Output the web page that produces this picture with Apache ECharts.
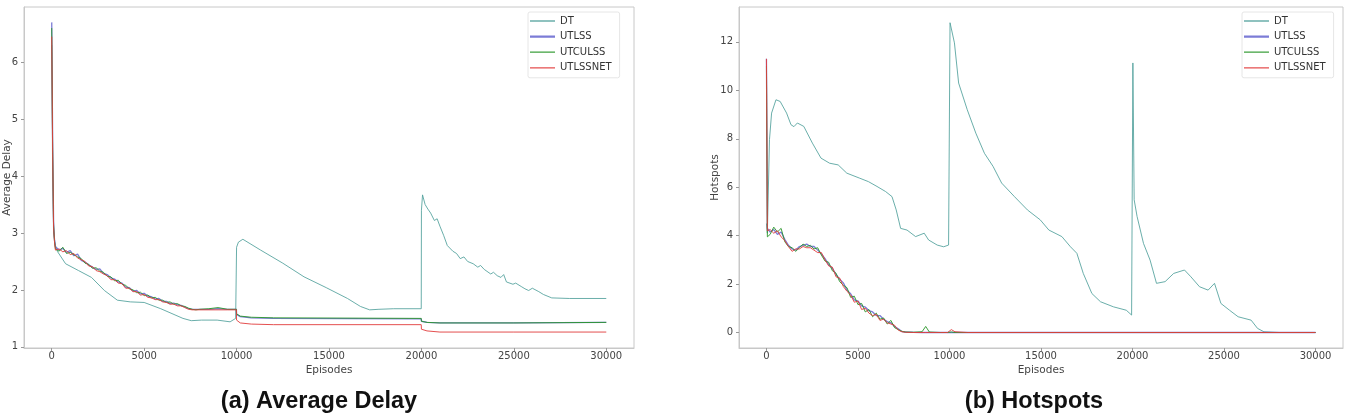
<!DOCTYPE html>
<html>
<head>
<meta charset="utf-8">
<script src="https://cdn.jsdelivr.net/npm/echarts@6/dist/echarts.min.js"></script>
<style>
  html, body { margin: 0; padding: 0; background: #fff; }
  #chart { width: 1348px; height: 415px; }
</style>
</head>
<body>
<div id="chart"></div>
<script>
// ---- (a) Average Delay ----
const delayEp = [0, 50, 100, 150,
  200, 400, 600, 800, 1000, 1200, 1400, 1600, 1800, 2000, 2200, 2400, 2600, 2800, 3000, 3200, 3400, 3600, 3800,
  4000, 4200, 4400, 4600, 4800, 5000, 5200, 5400, 5600, 5800, 6000, 6200, 6400, 6600, 6800, 7000, 7200, 7400, 7600, 7800,
  8000, 8500, 9000, 9500, 9990, 10000, 10200, 10800, 12000, 19990, 20000, 20300, 21000, 25000, 30000]
const delayUtlss = [6.70, 4.60, 3.20, 2.88,
  2.76, 2.70, 2.73, 2.66, 2.69, 2.60, 2.63, 2.52, 2.49, 2.44, 2.40, 2.36, 2.37, 2.29, 2.27, 2.21, 2.19, 2.14, 2.12,
  2.05, 2.04, 1.98, 1.99, 1.93, 1.94, 1.89, 1.88, 1.84, 1.85, 1.80, 1.80, 1.76, 1.77, 1.74, 1.73, 1.70, 1.67, 1.66, 1.66,
  1.66, 1.66, 1.67, 1.66, 1.66, 1.57, 1.53, 1.51, 1.50, 1.49, 1.45, 1.43, 1.42, 1.42, 1.43]
const delayUtculss = [6.60, 4.50, 3.15, 2.85,
  2.72, 2.68, 2.75, 2.64, 2.66, 2.62, 2.58, 2.55, 2.47, 2.45, 2.38, 2.39, 2.33, 2.31, 2.24, 2.23, 2.16, 2.17, 2.10,
  2.08, 2.02, 2.00, 1.95, 1.96, 1.90, 1.91, 1.86, 1.87, 1.82, 1.82, 1.78, 1.79, 1.75, 1.76, 1.72, 1.71, 1.68, 1.66, 1.65,
  1.66, 1.67, 1.69, 1.66, 1.66, 1.58, 1.54, 1.52, 1.51, 1.50, 1.45, 1.43, 1.42, 1.42, 1.43]
const delayUtlssnet = [6.45, 4.40, 3.10, 2.84,
  2.70, 2.72, 2.67, 2.69, 2.62, 2.64, 2.56, 2.53, 2.50, 2.42, 2.41, 2.34, 2.32, 2.28, 2.25, 2.18, 2.18, 2.12, 2.11,
  2.03, 2.03, 1.97, 1.97, 1.91, 1.92, 1.87, 1.86, 1.83, 1.83, 1.79, 1.78, 1.75, 1.75, 1.72, 1.72, 1.69, 1.66, 1.65, 1.65,
  1.65, 1.65, 1.65, 1.65, 1.65, 1.47, 1.42, 1.40, 1.39, 1.39, 1.31, 1.28, 1.26, 1.26, 1.26]

const delayDtEp = [0, 50, 100, 200, 300, 750, 1450, 2150, 2850, 3550, 4250, 5000, 5900, 7100, 7550,
  8100, 8950, 9650, 9950, 10000, 10100, 10340, 11300, 12500, 13650, 14850, 16000, 16700, 17200, 17700,
  18500, 19990, 20000, 20060, 20200, 20350, 20500, 20700, 20850, 21000, 21200, 21400, 21700, 21900, 22100,
  22300, 22500, 22800, 23050, 23200, 23400, 23750, 23900, 24100, 24300, 24450, 24600, 24950, 25100, 25400,
  25600, 25800, 26000, 26350, 26600, 27050, 28000, 30000]
const delayDt = [6.3, 4.0, 3.0, 2.78, 2.68, 2.46, 2.34, 2.22, 1.99, 1.82, 1.79, 1.78, 1.67, 1.50, 1.46,
  1.47, 1.47, 1.44, 1.50, 2.75, 2.84, 2.89, 2.70, 2.47, 2.23, 2.04, 1.85, 1.71, 1.65, 1.66,
  1.67, 1.67, 3.40, 3.67, 3.50, 3.42, 3.35, 3.22, 3.25, 3.12, 2.96, 2.78, 2.68, 2.64, 2.55,
  2.58, 2.50, 2.46, 2.40, 2.43, 2.36, 2.28, 2.31, 2.25, 2.22, 2.27, 2.14, 2.10, 2.12, 2.06,
  2.02, 1.99, 2.03, 1.97, 1.92, 1.86, 1.85, 1.85]

// ---- (b) Hotspots ----
const hotEp = [0, 50,
  200, 400, 600, 800, 1000, 1200, 1400, 1600, 1800, 2000, 2200, 2400, 2600, 2800, 3000, 3200, 3400, 3600, 3800,
  4000, 4200, 4400, 4600, 4800, 5000, 5200, 5400, 5600, 5800, 6000, 6200, 6400, 6600, 6800, 7000, 7200, 7400,
  7600, 8000, 8500, 8700, 8900, 9500, 9900, 10000, 10100, 10300, 11000, 30000]
const hotUtlss = [11.3, 4.3,
  4.15, 4.25, 4.05, 4.15, 3.85, 3.60, 3.45, 3.40, 3.55, 3.60, 3.65, 3.55, 3.55, 3.40, 3.25, 3.05, 2.80, 2.65, 2.40,
  2.20, 2.05, 1.75, 1.60, 1.35, 1.30, 1.10, 1.05, 0.90, 0.85, 0.70, 0.70, 0.55, 0.45, 0.40, 0.25, 0.15, 0.04,
  0.02, 0.01, 0, 0, 0, 0, 0, 0, 0, 0, 0, 0]
const hotUtculss = [11.0, 3.95,
  4.05, 4.35, 4.15, 4.30, 3.75, 3.55, 3.50, 3.35, 3.50, 3.65, 3.55, 3.60, 3.45, 3.50, 3.20, 2.95, 2.90, 2.55, 2.45,
  2.10, 1.95, 1.85, 1.45, 1.50, 1.15, 1.20, 0.85, 0.95, 0.65, 0.80, 0.55, 0.60, 0.35, 0.50, 0.20, 0.12, 0.05,
  0.02, 0.01, 0.03, 0.25, 0.02, 0, 0, 0, 0.02, 0, 0, 0]
const hotUtlssnet = [11.3, 4.2,
  4.25, 4.10, 4.20, 3.95, 3.80, 3.55, 3.35, 3.45, 3.45, 3.55, 3.50, 3.50, 3.40, 3.30, 3.30, 3.00, 2.75, 2.70, 2.30,
  2.25, 1.90, 1.70, 1.55, 1.25, 1.30, 0.95, 1.00, 0.80, 0.70, 0.75, 0.50, 0.55, 0.40, 0.35, 0.30, 0.10, 0.03,
  0.01, 0, 0, 0, 0, 0, 0, 0.02, 0.12, 0.03, 0, 0]

const hotDtEp = [0, 50, 165, 280, 520, 750, 1100, 1340, 1500, 1690, 2040, 2510, 2980, 3450, 3920,
  4390, 5100, 5570, 6040, 6510, 6860, 7090, 7330, 7680, 8150, 8620, 8860, 9330, 9680, 9950,
  10030, 10270, 10500, 10970, 11440, 11910, 12380, 12850, 13550, 14260, 14960, 15430, 16140, 16610, 16960,
  17310, 17780, 18250, 18960, 19660, 19950, 20020, 20090, 20250, 20600, 20960, 21310, 21780, 22250, 22840,
  23190, 23660, 24130, 24480, 24830, 25300, 25770, 26480, 26830, 27180, 28000, 30000]
const hotDt = [4.5, 4.1, 7.96, 9.06, 9.61, 9.54, 9.06, 8.58, 8.50, 8.65, 8.51, 7.82, 7.20, 6.99, 6.92,
  6.58, 6.37, 6.23, 6.03, 5.82, 5.61, 5.06, 4.30, 4.23, 3.96, 4.10, 3.82, 3.61, 3.54, 3.61,
  12.79, 11.96, 10.3, 9.2, 8.23, 7.4, 6.86, 6.17, 5.61, 5.06, 4.65, 4.23, 3.96, 3.54, 3.27,
  2.44, 1.61, 1.27, 1.06, 0.92, 0.72, 11.13, 5.48, 4.79, 3.68, 2.99, 2.03, 2.10, 2.44, 2.58,
  2.30, 1.89, 1.75, 2.03, 1.20, 0.92, 0.65, 0.51, 0.17, 0.03, 0, 0]

const seriesNames = ['DT', 'UTLSS', 'UTCULSS', 'UTLSSNET']
const xTicks = [0, 5000, 10000, 15000, 20000, 25000, 30000]
const delayTicks = [1, 2, 3, 4, 5, 6]
const hotTicks = [0, 2, 4, 6, 8, 10, 12]

const colors = {
  DT: 'rgba(80,160,155,0.85)',
  UTLSS: 'rgba(110,110,210,0.9)',
  UTCULSS: 'rgba(40,150,40,0.9)',
  UTLSSNET: 'rgba(225,60,60,0.9)'
}

const pairs = (xs, ys) => xs.map((x, i) => [x, ys[i]])

const font = 'DejaVu Sans'
const axisGray = '#c8c8c8'
const labelColor = '#444'

// thin line legend icon; corner dots keep the 25x10 box
const lineIcon = (h) => 'path://M0,0h0.01v0.01h-0.01z M0,' + (5 - h / 2) + 'h25v' + h + 'h-25z M24.99,9.99h0.01v0.01h-0.01z'

const makeX = (gridIndex) => ({
  type: 'value',
  gridIndex,
  min: -1500,
  max: 31500,
  name: 'Episodes',
  nameLocation: 'middle',
  nameGap: 16.5,
  nameMoveOverlap: false,
  nameTextStyle: { fontFamily: font, fontSize: 10.5, color: labelColor },
  splitLine: { show: false },
  axisLine: { onZero: false, lineStyle: { color: axisGray } },
  axisTick: { show: true, length: 3, customValues: xTicks, lineStyle: { color: '#999' } },
  axisLabel: { customValues: xTicks, formatter: (v) => String(v), fontFamily: font, fontSize: 10, color: labelColor, margin: 3 }
})

const makeY = (gridIndex, min, max, ticks, name, gap) => ({
  type: 'value',
  gridIndex,
  min,
  max,
  name,
  nameLocation: 'middle',
  nameGap: gap,
  nameMoveOverlap: false,
  nameTextStyle: { fontFamily: font, fontSize: 10.5, color: labelColor },
  splitLine: { show: false },
  axisLine: { show: true, onZero: false, lineStyle: { color: axisGray } },
  axisTick: { show: true, length: 3, customValues: ticks, lineStyle: { color: '#999' } },
  axisLabel: { customValues: ticks, formatter: (v) => String(v), fontFamily: font, fontSize: 10, color: labelColor, margin: 6 }
})

const lineSeries = (name, data, gridIdx) => ({
  name,
  type: 'line',
  xAxisIndex: gridIdx,
  yAxisIndex: gridIdx,
  data,
  symbol: 'none',
  silent: true,
  lineStyle: { width: name === 'UTLSS' ? 1.3 : 1, color: colors[name] },
  itemStyle: { color: colors[name] }
})

const makeLegend = (left) => ({
  data: seriesNames.map((n) => ({ name: n, icon: lineIcon(n === 'UTLSS' ? 2.4 : 1.3) })),
  orient: 'vertical',
  left,
  top: 12,
  padding: [4, 8, 5, 2],
  itemGap: 5.6,
  itemWidth: 25,
  itemHeight: 10,
  borderColor: '#e6e6e6',
  borderWidth: 1,
  borderRadius: 2,
  selectedMode: false,
  textStyle: { fontFamily: font, fontSize: 10, color: '#333' }
})

const chart = echarts.init(document.getElementById('chart'))
chart.setOption({
  animation: false,
  backgroundColor: '#fff',
  title: [
    { text: '(a) Average Delay', left: 319, top: 390, textAlign: 'center', padding: 0,
      textStyle: { fontFamily: 'Liberation Sans', fontWeight: 'bold', fontSize: 23.5, color: '#111' } },
    { text: '(b) Hotspots', left: 1034, top: 390, textAlign: 'center', padding: 0,
      textStyle: { fontFamily: 'Liberation Sans', fontWeight: 'bold', fontSize: 23.5, color: '#111' } }
  ],
  legend: [makeLegend(528), makeLegend(1242)],
  grid: [
    { left: 24, right: 714, top: 7, bottom: 67, show: true, borderColor: axisGray, borderWidth: 1, outerBoundsMode: 'none' },
    { left: 739, right: 5, top: 7, bottom: 67, show: true, borderColor: axisGray, borderWidth: 1, outerBoundsMode: 'none' }
  ],
  xAxis: [makeX(0), makeX(1)],
  yAxis: [
    makeY(0, 0.98, 6.97, delayTicks, 'Average Delay', 10.75),
    makeY(1, -0.64, 13.44, hotTicks, 'Hotspots', 18)
  ],
  series: [
    lineSeries('DT', pairs(delayDtEp, delayDt), 0),
    lineSeries('UTLSS', pairs(delayEp, delayUtlss), 0),
    lineSeries('UTCULSS', pairs(delayEp, delayUtculss), 0),
    lineSeries('UTLSSNET', pairs(delayEp, delayUtlssnet), 0),
    lineSeries('DT', pairs(hotDtEp, hotDt), 1),
    lineSeries('UTLSS', pairs(hotEp, hotUtlss), 1),
    lineSeries('UTCULSS', pairs(hotEp, hotUtculss), 1),
    lineSeries('UTLSSNET', pairs(hotEp, hotUtlssnet), 1)
  ]
})
</script>
</body>
</html>
